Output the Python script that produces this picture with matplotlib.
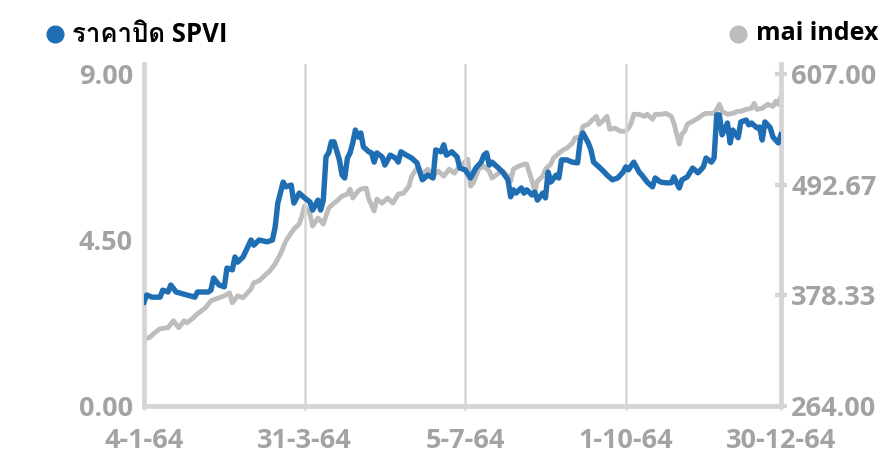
import matplotlib
matplotlib.use('Agg')
import matplotlib.pyplot as plt
from matplotlib import font_manager
from matplotlib.lines import Line2D
from fontTools.ttLib import TTFont

# trading-day index (0 = 4-1-64) and closing values
spvi_day = [0, 1, 3, 6, 7, 9, 10, 12, 16, 19, 20, 24, 25, 26, 28, 30, 31, 33, 34, 35,
            37, 40, 41, 43, 46, 48, 49, 50, 52, 53, 55, 56, 58, 60, 62, 63, 65, 66, 67, 68,
            69, 70, 71, 73, 74, 75, 76, 77, 78, 79, 80, 81, 82, 84, 85, 86, 87, 89, 90, 92,
            94, 95, 96, 98, 100, 102, 104, 106, 108, 109, 111, 112, 113, 115, 117, 118, 120, 122, 124, 126,
            127, 128, 129, 130, 132, 134, 136, 137, 138, 139, 141, 142, 143, 145, 146, 147, 149, 150, 151, 152,
            154, 155, 156, 158, 160, 162, 163, 164, 166, 167, 168, 170, 172, 173, 175, 177, 179, 180, 181, 183,
            185, 186, 188, 190, 191, 193, 195, 197, 198, 199, 200, 201, 203, 205, 207, 209, 210, 212, 213, 214,
            215, 216, 218, 219, 220, 222, 223, 225, 226, 227, 229, 230, 231, 232, 234, 235, 237, 238]
spvi_close = [2.82, 3.01, 2.95, 2.95, 3.14, 3.09, 3.28, 3.09, 3.01, 2.95, 3.09, 3.09, 3.14, 3.47, 3.28, 3.23, 3.74, 3.69, 4.04, 3.90,
              4.04, 4.50, 4.36, 4.50, 4.45, 4.50, 4.85, 5.50, 6.07, 5.94, 5.99, 5.50, 5.77, 5.64, 5.53, 5.31, 5.58, 5.31, 5.58, 6.75,
              6.86, 7.16, 7.16, 6.67, 6.26, 6.18, 6.72, 6.86, 7.13, 7.48, 7.29, 7.40, 7.02, 6.89, 6.86, 6.61, 6.86, 6.75, 6.53, 6.80,
              6.72, 6.61, 6.89, 6.80, 6.72, 6.59, 6.13, 6.26, 6.18, 6.94, 6.89, 7.08, 6.80, 6.89, 6.75, 6.45, 6.40, 6.18, 6.45, 6.61,
              6.80, 6.86, 6.53, 6.61, 6.48, 6.34, 6.13, 5.67, 5.86, 5.77, 5.91, 5.77, 5.86, 5.72, 5.80, 5.58, 5.77, 5.64, 6.34, 6.07,
              6.26, 6.18, 6.67, 6.67, 6.61, 6.59, 7.21, 7.40, 7.13, 6.94, 6.61, 6.48, 6.34, 6.26, 6.13, 6.18, 6.34, 6.48, 6.40, 6.61,
              6.34, 6.26, 6.07, 5.94, 6.18, 6.07, 6.05, 6.05, 6.21, 6.05, 5.91, 6.13, 6.21, 6.45, 6.32, 6.48, 6.72, 6.61, 6.72, 7.89,
              7.89, 7.35, 7.67, 7.13, 7.48, 7.27, 7.70, 7.75, 7.62, 7.67, 7.54, 7.56, 7.21, 7.70, 7.54, 7.29, 7.13, 7.35]

mai_day = [0, 2, 4, 6, 9, 11, 13, 15, 16, 18, 20, 23, 25, 28, 30, 32, 33, 35, 37, 40,
           41, 43, 45, 47, 49, 51, 53, 56, 58, 59, 60, 62, 63, 65, 67, 69, 71, 72, 74, 76,
           77, 78, 80, 81, 83, 84, 86, 87, 89, 91, 93, 95, 97, 99, 100, 102, 104, 106, 108, 110,
           112, 114, 116, 117, 119, 121, 122, 123, 125, 127, 129, 130, 132, 134, 136, 137, 138, 140, 142, 143,
           145, 146, 147, 149, 150, 152, 153, 155, 157, 158, 160, 161, 163, 164, 166, 167, 169, 170, 172, 173,
           174, 176, 178, 180, 181, 182, 183, 185, 187, 188, 190, 191, 193, 195, 197, 198, 200, 201, 202, 203,
           205, 207, 209, 210, 213, 214, 215, 216, 218, 220, 222, 223, 225, 227, 228, 229, 231, 233, 235, 236,
           237, 238]
mai_close = [333.5, 334.6, 339.7, 343.8, 344.9, 352.1, 344.9, 352.1, 350.0, 354.1, 359.3, 365.5, 372.7, 375.8, 377.8, 380.9, 370.6, 377.8, 375.8, 385.0,
             391.2, 393.3, 398.4, 403.6, 410.8, 421.1, 434.5, 446.8, 452.0, 460.2, 470.5, 462.3, 449.9, 458.2, 452.0, 468.5, 473.6, 475.7, 480.8, 482.9,
             488.0, 478.8, 486.0, 488.0, 489.1, 477.7, 465.4, 477.7, 473.6, 478.8, 473.6, 482.9, 483.9, 491.1, 501.4, 509.7, 503.5, 508.6, 501.4, 506.6,
             501.4, 508.6, 504.5, 508.6, 513.8, 518.9, 491.1, 494.2, 508.6, 511.7, 506.6, 499.4, 503.5, 506.6, 501.4, 496.3, 508.6, 511.7, 513.8, 513.8,
             496.3, 486.0, 496.3, 501.4, 508.6, 513.8, 520.0, 525.1, 529.2, 530.3, 535.4, 540.6, 542.6, 552.9, 555.0, 558.1, 563.2, 555.0, 560.1, 563.2,
             549.8, 550.9, 547.8, 547.8, 550.9, 556.0, 565.3, 565.3, 563.2, 565.3, 560.1, 565.3, 565.3, 566.3, 563.2, 556.0, 534.4, 544.7, 547.8, 555.0,
             558.1, 561.2, 565.3, 566.3, 566.3, 570.4, 575.6, 568.4, 565.3, 566.3, 568.4, 568.4, 570.4, 571.5, 576.6, 570.4, 571.5, 575.6, 573.5, 578.7,
             575.6, 583.8]

tick_days = [0, 60, 120, 180, 238]
tick_labels = ['4-1-64', '31-3-64', '5-7-64', '1-10-64', '30-12-64']
left_ticks = [0.0, 4.5, 9.0]
right_ticks = [264.0, 378.33, 492.67, 607.0]

BLUE = '#1f6eb4'
GREY = '#bdbdbd'
AXIS = '#d5d5d8'
LABEL = '#a3a3a3'


def find_thai_font():
    for f in font_manager.fontManager.ttflist:
        try:
            cmap = TTFont(f.fname, fontNumber=0, lazy=True).getBestCmap()
        except Exception:
            continue
        if cmap and 0x0E23 in cmap and 0x0E1B in cmap:
            return f.name
    return 'DejaVu Sans'


thai = find_thai_font()
fams = ['Open Sans', thai, 'DejaVu Sans']
plt.rcParams['font.family'] = fams

fig = plt.figure(figsize=(8.9, 4.58), dpi=100)
ax = fig.add_axes([0.1618, 0.1135, 0.7157, 0.7468])
ax2 = ax.twinx()

top_left = 9.27
ax.set_ylim(0, top_left)
ax2.set_ylim(264, 264 + 343 * top_left / 9)
ax.set_xlim(0, 238)

ax2.plot(mai_day, mai_close, color=GREY, lw=3.5, solid_joinstyle='round', zorder=2)
ax.plot(spvi_day, spvi_close, color=BLUE, lw=3.9, solid_joinstyle='round', zorder=3)
ax.set_zorder(ax2.get_zorder() + 1)
ax.patch.set_visible(False)

for d in tick_days[1:-1]:
    ax.axvline(d, color='#d6d6d6', lw=1.8, zorder=1)

for a in (ax, ax2):
    for s in a.spines.values():
        s.set_visible(False)
ax.spines['left'].set_visible(True)
ax.spines['bottom'].set_visible(True)
ax2.spines['right'].set_visible(True)
for s in (ax.spines['left'], ax.spines['bottom'], ax2.spines['right']):
    s.set_color(AXIS)
    s.set_linewidth(3.4)

ax.set_xticks(tick_days)
ax.set_xticklabels(tick_labels)
ax.tick_params(axis='x', length=3, width=1.8, color='#d6d6d6', pad=13,
               labelsize=19.5, labelcolor=LABEL)
ax.set_yticks(left_ticks)
ax.set_yticklabels(['%.2f' % v for v in left_ticks])
ax.tick_params(axis='y', length=0, pad=8, labelsize=19.5, labelcolor=LABEL)
ax2.set_yticks(right_ticks)
ax2.set_yticklabels(['%.2f' % v for v in right_ticks])
ax2.tick_params(axis='y', direction='inout', length=9, width=3.2, color=AXIS,
                pad=3, labelsize=19.5, labelcolor=LABEL)
for lbl in ax.get_xticklabels() + ax.get_yticklabels() + ax2.get_yticklabels():
    lbl.set_fontweight('bold')

# legend items at the top corners
fig.add_artist(Line2D([55 / 890], [1 - 34 / 458], marker='o', ms=12, color=BLUE,
                      transform=fig.transFigure, lw=0))
fig.text(72 / 890, 1 - 34 / 458, 'ราคาปิด SPVI', fontsize=18.5, fontweight='bold',
         color='black', va='center', ha='left', family=fams)
fig.add_artist(Line2D([738 / 890], [1 - 34 / 458], marker='o', ms=12, color=GREY,
                      transform=fig.transFigure, lw=0))
fig.text(878 / 890, 1 - 34 / 458, 'mai index', fontsize=18, fontweight='bold',
         color='black', va='center', ha='right', family=fams)

fig.savefig('out.png', dpi=100)
